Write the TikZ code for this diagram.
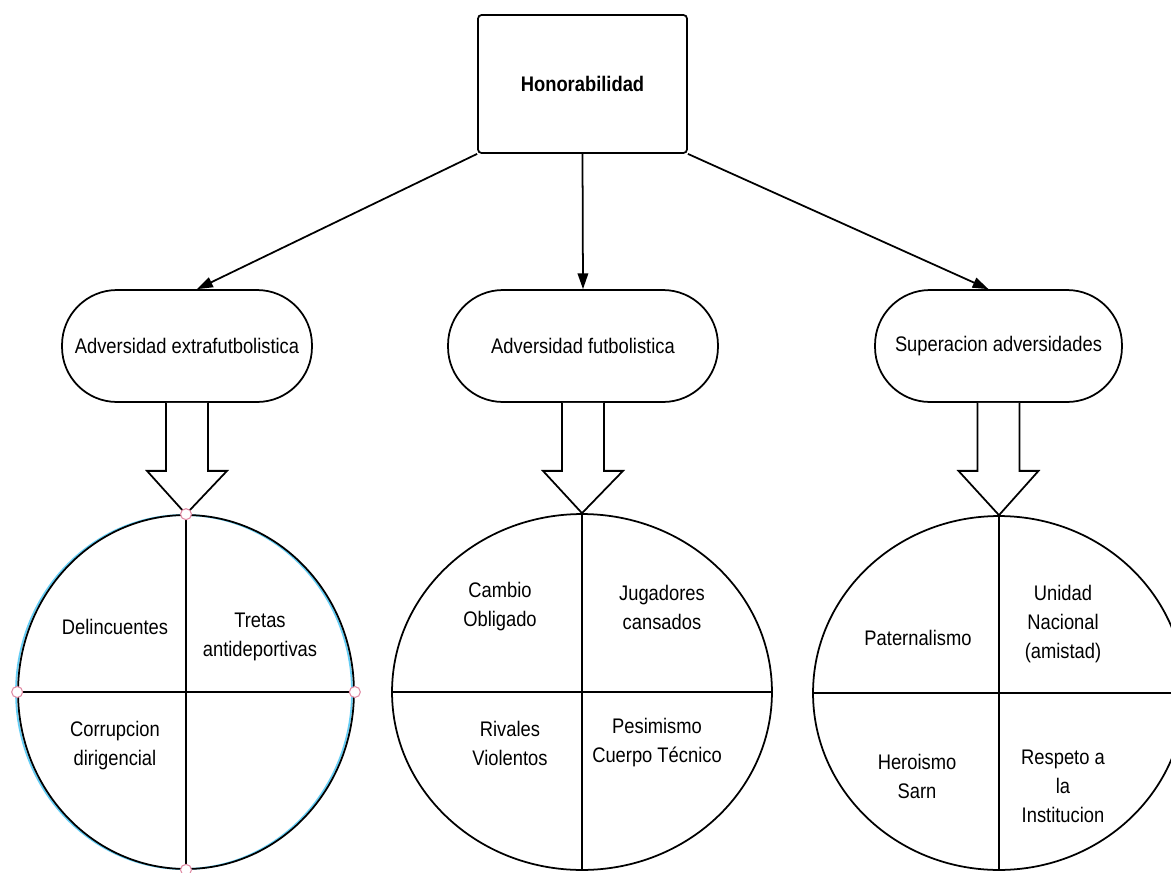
\documentclass[tikz,border=0pt]{standalone}
\usepackage{fontspec}
\setmainfont{Liberation Sans}[FakeStretch=0.87]
\usepackage{tikz}
\usetikzlibrary{shapes.geometric,arrows.meta,calc}

\begin{document}
\begin{tikzpicture}[x=0.02cm, y=-0.02cm,
        every node/.style={font=\fontsize{12}{16.5}\selectfont, align=center},
        topbox/.style={draw, line width=1pt, rounded corners=2pt, minimum width=4.18cm, minimum height=2.76cm},
        pill/.style={draw, line width=1pt, rounded corners=1.1cm, minimum height=2.24cm},
        quad/.style={draw, line width=1pt, ellipse, inner sep=0pt},
        link/.style={line width=1pt, -{Triangle[length=9pt,width=6pt]}},
        fatarrow/.style={draw, line width=1pt, line join=miter, fill=white},
        handle/.style={draw={rgb,255:red,225;green,140;blue,165}, fill=white, line width=0.6pt}]
        \clip (0,0) rectangle (1171,873);
        \fill[white] (0,0) rectangle (1171,873);

        \node[topbox] (hon) at (582.5,84) {\textbf{Honorabilidad}};

        \node[pill, minimum width=5cm] (pillL) at (187,346) {Adversidad extrafutbolistica};
        \node[pill, minimum width=5.4cm] (pillM) at (583,346) {Adversidad futbolistica};
        \node[pill, minimum width=4.94cm] (pillR) at (998.5,346) {Superacion adversidades};

        \draw[link] (hon.south west) -- ([xshift=0.2cm]pillL.north);
        \draw[link] (hon.south) -- (pillM.north);
        \draw[link] (hon.south east) -- ([xshift=-0.2cm]pillR.north);

        % circles split in four
        \draw[cyan!60, line width=1pt] (184,692) ellipse (168 and 177);
        \node[quad, minimum width=6.72cm, minimum height=7.08cm] (circL) at (186,692) {};
        \node[quad, minimum width=7.6cm, minimum height=7.12cm] (circM) at (582,692) {};
        \node[quad, minimum width=7.44cm, minimum height=7.08cm] (circR) at (999,693) {};
        \foreach \c in {circL,circM,circR} {
            \draw[line width=1pt] (\c.north) -- (\c.south);
            \draw[line width=1pt] (\c.west) -- (\c.east);
        }

        \foreach \p/\c in {pillL/circL, pillM/circM, pillR/circR} {
            \path[fatarrow] ($(\p.south)+(-21,0)$) -- ++(0,68) -- ++(-19,0) -- (\c.north)
                -- ($(\p.south)+(40,68)$) -- ++(-19,0) -- ($(\p.south)+(21,0)$);
        }

        \foreach \a in {north,west,east,south}
            \draw[handle] (circL.\a) circle (5.5);

        \node (delin) at (115,627) {Delincuentes};
        \node (tretas) at (260,637) {Tretas\\antideportivas};
        \node (corrup) at (115,746) {Corrupcion\\dirigencial};

        \node (cambio) at (500,607) {Cambio\\Obligado};
        \node (jugad) at (662,607) {Jugadores\\cansados};
        \node (rivales) at (510,743) {Rivales\\Violentos};
        \node (pesim) at (657,743) {Pesimismo\\Cuerpo Técnico};

        \node (patern) at (918,638) {Paternalismo};
        \node (unidad) at (1063,624) {Unidad\\Nacional\\(amistad)};
        \node (heroi) at (917,776) {Heroismo\\Sarn};
        \node (respeto) at (1063,786) {Respeto a\\la\\Institucion};
    \end{tikzpicture}
\end{document}
